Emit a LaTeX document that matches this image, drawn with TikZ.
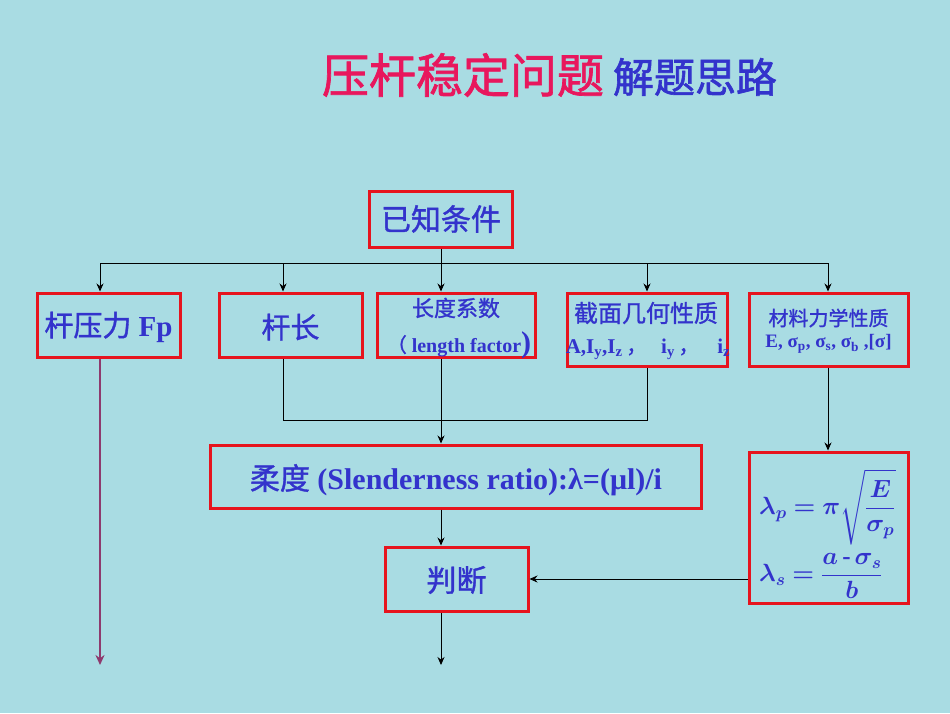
\documentclass[tikz,border=0pt]{standalone}
\usepackage{fontspec}
\usepackage{amsmath}
\usepackage{bm}
\setmainfont{Liberation Serif}
\newfontfamily\cjk{Noto Sans CJK SC}[FakeBold=1.2]
\newfontfamily\cjkt{Noto Sans CJK SC}[FakeBold=1.5]
\usetikzlibrary{arrows.meta}
\definecolor{bgc}{RGB}{169,220,227}
\definecolor{boxred}{RGB}{230,20,30}
\definecolor{txtblue}{RGB}{51,51,204}
\definecolor{titlered}{RGB}{232,23,93}
\definecolor{purp}{RGB}{142,58,110}
\tikzset{
  box/.style={draw=boxred, line width=3pt, rectangle, inner sep=0pt},
  lbl/.style={text=txtblue, inner sep=0pt},
  conn/.style={draw=black, line width=0.9pt},
  arr/.style={conn, -{Stealth[length=8pt,width=7pt]}},
}
\begin{document}
\begin{tikzpicture}[x=1pt,y=-1pt]
\fill[bgc] (0,0) rectangle (950,713);
\useasboundingbox (0,0) rectangle (950,713);
% title
\node[inner sep=0pt, text=titlered, font=\cjkt\fontsize{47}{50}\selectfont] (t1) at (463,75) {压杆稳定问题};
\node[inner sep=0pt, text=txtblue, font=\cjkt\fontsize{41}{44}\selectfont] (t2) at (695,77) {解题思路};
% boxes
\node[box, minimum width=143pt, minimum height=56pt] (known) at (441,219) {};
\node[box, minimum width=143pt, minimum height=64pt] (f) at (108.5,325) {};
\node[box, minimum width=143pt, minimum height=64pt] (len) at (290.5,325) {};
\node[box, minimum width=158pt, minimum height=64pt] (mu) at (456,325) {};
\node[box, minimum width=160pt, minimum height=73pt] (sec) at (647,329.5) {};
\node[box, minimum width=159pt, minimum height=73pt] (mat) at (828.5,329.5) {};
\node[box, minimum width=491pt, minimum height=63pt] (slen) at (455.5,476.5) {};
\node[box, minimum width=143pt, minimum height=64pt] (judge) at (456.5,579) {};
\node[box, minimum width=159pt, minimum height=151pt] (lam) at (828.5,527.5) {};
% labels
\node[lbl, font=\cjk\fontsize{30}{34}\selectfont] (knownt) at (441,219) {已知条件};
\node[lbl, font=\fontsize{29}{32}\selectfont\bfseries] (ft) at (108.5,327) {{\mdseries\cjk 杆压力} Fp};
\node[lbl, font=\cjk\fontsize{29}{32}\selectfont] (lent) at (290.5,327) {杆长};
\node[lbl, font=\cjk\fontsize{22}{26}\selectfont] (mut1) at (456,308) {长度系数};
\node[lbl, font=\fontsize{20}{24}\selectfont\bfseries] (mut2) at (459,345) {{\mdseries\cjk （} length factor{\fontsize{30}{30}\selectfont )}};
\node[lbl, font=\cjk\fontsize{24}{28}\selectfont] (sect1) at (646,313) {截面几何性质};
\node[lbl, font=\fontsize{21}{24}\selectfont\bfseries] (sect2) at (648,349) {A,I\textsubscript{y},I\textsubscript{z}\,{\mdseries\cjk ，}\hspace{14pt}i\textsubscript{y}\,{\mdseries\cjk ，}\hspace{18pt}i\textsubscript{z}};
\node[lbl, font=\cjk\fontsize{20}{24}\selectfont] (matt1) at (828.5,318) {材料力学性质};
\node[lbl, font=\fontsize{19}{22}\selectfont\bfseries] (matt2) at (828.5,344) {E, σ\textsubscript{p}, σ\textsubscript{s}, σ\textsubscript{b} ,[σ]};
\node[lbl, font=\fontsize{30}{34}\selectfont\bfseries] (slent) at (456,480) {{\mdseries\cjk 柔度} (Slenderness ratio):λ=(μl)/i};
\node[lbl, font=\cjk\fontsize{30}{34}\selectfont] (judget) at (456.5,580) {判断};
\node[lbl, font=\fontsize{25}{28}\selectfont, anchor=west] (lamp) at (759,507) {$\displaystyle \bm{\lambda_p} \bm{=}\bm{\pi}\sqrt{\frac{\bm{E}}{\bm{\sigma_p}}}$};
\node[lbl, font=\fontsize{25}{28}\selectfont, anchor=west] (lams) at (759,576) {$\displaystyle \bm{\lambda_s} \bm{=}\frac{\bm{a}\,\text{\bfseries -}\,\bm{\sigma_s}}{\bm{b}}$};
% connectors
\coordinate (b1) at (100,263);
\coordinate (b2) at (283,263);
\coordinate (b3) at (441,263);
\coordinate (b4) at (647,263);
\coordinate (b5) at (828,263);
\draw[conn] (b1) -- (b5);
\draw[arr] (known.south) -- (known.south |- mu.north);
\draw[arr] (b1) -- (b1 |- f.north);
\draw[arr] (b2) -- (b2 |- len.north);
\draw[arr] (b4) -- (b4 |- sec.north);
\draw[arr] (b5) -- (b5 |- mat.north);
\coordinate (j1) at (283,420);
\coordinate (j2) at (647,420);
\draw[conn] (j1 |- len.south) -- (j1) -- (j2) -- (j2 |- sec.south);
\draw[arr] (b3 |- mu.south) -- (b3 |- slen.north);
\draw[arr] (b3 |- slen.south) -- (b3 |- judge.north);
\coordinate (jend) at (441,665);
\draw[arr] (b3 |- judge.south) -- (jend);
\draw[arr] (b5 |- mat.south) -- (b5 |- lam.north);
\coordinate (lw) at (828,579);
\draw[arr] (lam.west |- lw) -- (judge.east |- lw);
\coordinate (pend) at (100,665);
\draw[draw=purp, line width=2pt, -{Stealth[length=10pt,width=9pt]}] (b1 |- f.south) -- (pend);
\end{tikzpicture}
\end{document}
